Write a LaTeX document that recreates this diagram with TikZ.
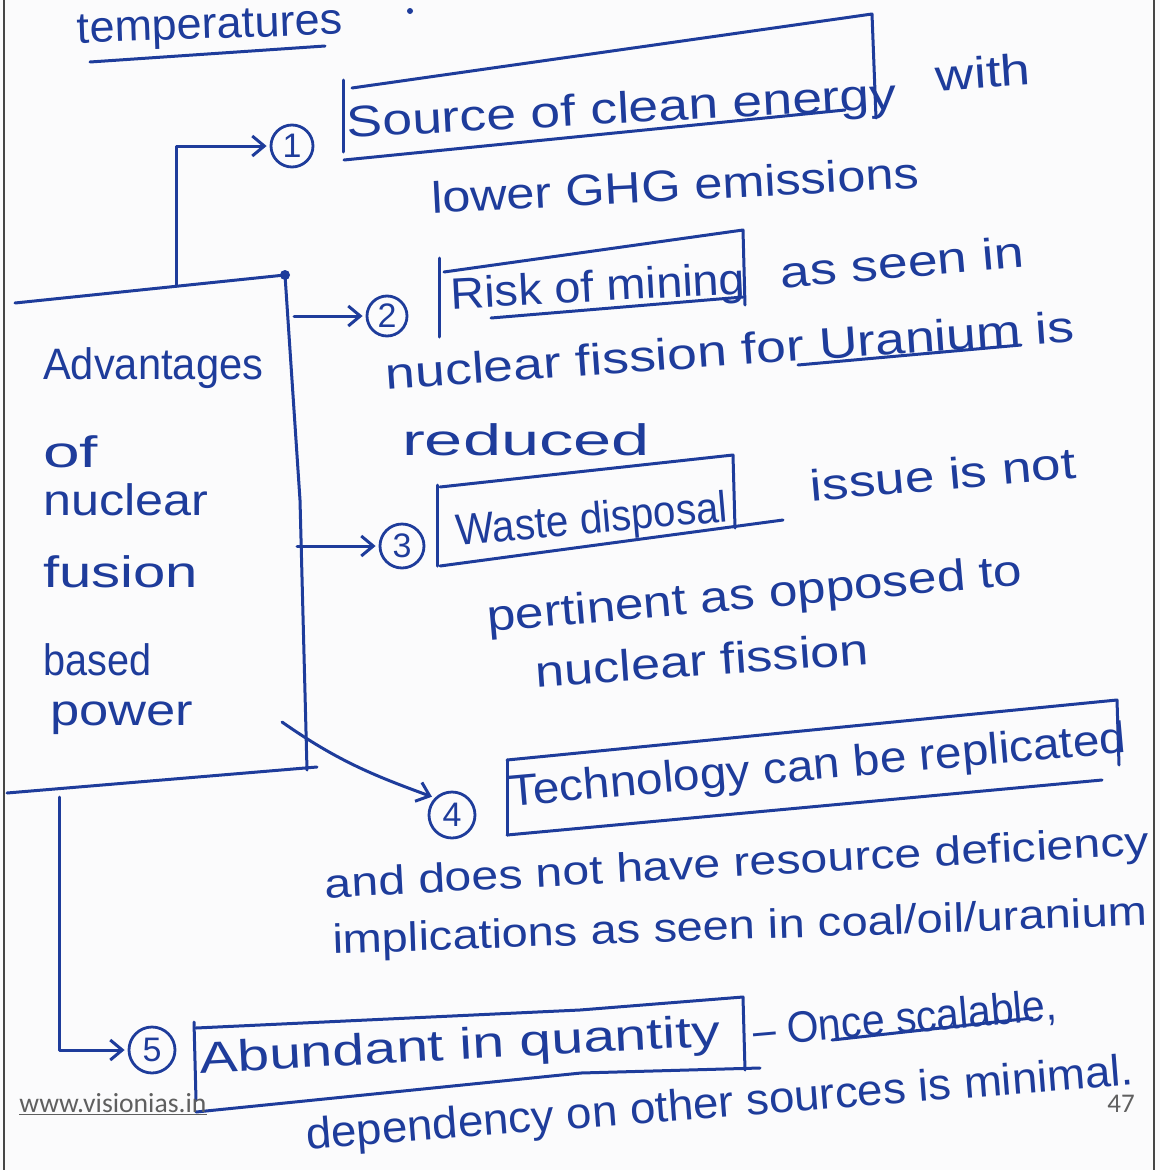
\documentclass[tikz,border=0pt]{standalone}
\usepackage{fontspec}
\setmainfont{Liberation Sans}
\newfontfamily\footfont{Carlito}
\usepackage{graphicx}
\usetikzlibrary{arrows.meta}
\definecolor{ink}{RGB}{30,60,155}
\definecolor{pagebg}{RGB}{251,251,252}
\definecolor{footgray}{RGB}{95,95,95}
\definecolor{edgegray}{RGB}{70,70,70}
\newcommand\hw[2]{\resizebox{#1pt}{\height}{#2}}
\begin{document}
\begin{tikzpicture}[x=1pt,y=-1pt,
  pen/.style={draw=ink,line width=3pt,line cap=round,line join=round},
  txt/.style={text=ink,inner sep=0pt,anchor=center,font=\fontsize{44}{44}\selectfont},
  lft/.style={text=ink,inner sep=0pt,anchor=west,font=\fontsize{44}{44}\selectfont},
  num/.style={circle,draw=ink,line width=2.8pt,text=ink,inner sep=0pt,minimum size=#1pt,font=\fontsize{34}{34}\selectfont},
  num/.default=40,
  arr/.style={pen,-{Straight Barb[length=12pt,width=20pt]},shorten >=3pt},
  foot/.style={text=footgray,inner sep=0pt,font=\footfont\fontsize{21}{21}\selectfont}
]
\fill[pagebg] (0,0) rectangle (1160,1170);
\useasboundingbox (0,0) rectangle (1160,1170);
% page edges
\draw[edgegray,line width=2.5pt] (4,0) -- (4,1170);
\draw[edgegray,line width=2.5pt] (1154,0) -- (1154,1170);

% top word
\node[txt,rotate=2] (temp) at (210,29) {\hw{265}{temperatures}};
\draw[pen] (90,62) -- (325,46);
\fill[ink] (410,11) circle (3);

% main box
\draw[pen] (15,303) -- (285,275);
\fill[ink] (285,275) circle (5);
\draw[pen] (285,275) -- (300,500) -- (307,770);
\draw[pen] (7,793) -- (317,767);
\node[lft] (adv1) at (43,368) {\hw{220}{Advantages}};
\node[lft] (adv2) at (43,452) {\hw{55}{of}};
\node[lft] (adv3) at (43,500) {\hw{165}{nuclear}};
\node[lft] (adv4) at (43,572) {\hw{155}{fusion}};
\node[lft] (adv5) at (43,660) {\hw{108}{based}};
\node[lft] (adv6) at (50,718) {\hw{143}{power}};

% junction points on the main box
\coordinate (j1) at (176,286);
\coordinate (s2) at (294,316);
\coordinate (s3) at (297,546);
\coordinate (s4) at (282,722);
\coordinate (j5) at (59,797);

% numbered circles
\node[num=42] (c1) at (292,146) {1};
\node[num=40] (c2) at (387,316) {2};
\node[num=44] (c3) at (402,546) {3};
\node[num=46] (c4) at (452,815) {4};
\node[num=46] (c5) at (152,1050) {5};

% connectors
\draw[arr] (j1) |- (c1.west);
\draw[arr] (s2) -- (c2.west);
\draw[arr] (s3) -- (c3.west);
\draw[arr] (s4) to[out=-35,in=160] (c4.north west);
\draw[arr] (j5) |- (c5.west);

% item 1
\draw[pen] (343,80) -- (343,152);
\draw[pen] (352,88) -- (872,14) -- (876,118);
\draw[pen] (344,160) -- (845,110);
\node[txt,rotate=3] (t1a) at (622,112) {\hw{550}{Source of clean energy}};
\node[txt,rotate=4] (t1b) at (983,72) {\hw{95}{with}};
\node[txt,rotate=3] (t1c) at (675,185) {\hw{488}{lower GHG emissions}};

% item 2
\draw[pen] (439,258) -- (439,337);
\draw[pen] (444,272) -- (743,230) -- (745,305);
\draw[pen] (491,318) -- (743,297);
\node[txt,rotate=3] (t2a) at (598,290) {\hw{295}{Risk of mining}};
\node[txt,rotate=5] (t2b) at (902,262) {\hw{244}{as seen in}};
\node[txt,rotate=4] (t2c) at (730,350) {\hw{690}{nuclear fission for Uranium is}};
\draw[pen] (798,365) -- (1021,345);
\node[txt] (t2d) at (526,440) {\hw{248}{reduced}};

% item 3
\draw[pen] (437,485) -- (437,566);
\draw[pen] (440,487) -- (733,455) -- (735,528);
\draw[pen] (440,566) -- (783,520);
\node[txt,rotate=5] (t3a) at (592,522) {\hw{272}{Waste disposal}};
\node[txt,rotate=5] (t3b) at (943,474) {\hw{266}{issue is not}};
\node[txt,rotate=5] (t3c) at (755,597) {\hw{537}{pertinent as opposed to}};
\node[txt,rotate=4] (t3d) at (702,660) {\hw{334}{nuclear fission}};

% item 4
\draw[pen] (507,760) -- (507,835);
\draw[pen] (507,760) -- (1117,700) -- (1119,765);
\draw[pen] (507,835) -- (1102,780);
\node[txt,rotate=5] (t4a) at (818,768) {\hw{619}{Technology can be replicated}};
\node[txt,rotate=3,font=\fontsize{41}{41}\selectfont] (t4b) at (737,866) {\hw{825}{and does not have resource deficiency}};
\node[txt,rotate=2,font=\fontsize{41}{41}\selectfont] (t4c) at (740,929) {\hw{815}{implications as seen in coal/oil/uranium}};

% item 5
\draw[pen] (194,1022) -- (196,1100);
\draw[pen] (196,1028) -- (580,1010) -- (743,997) -- (745,1070);
\draw[pen] (196,1112) -- (581,1073) -- (760,1068);
\node[txt,rotate=3] (t5a) at (460,1048) {\hw{521}{Abundant in quantity}};
\node[txt,rotate=5] (t5b) at (905,1020) {\hw{305}{– Once scalable,}};
\draw[pen] (832,1040) -- (1032,1018);
\node[txt,rotate=4.5] (t5c) at (720,1106) {\hw{830}{dependency on other sources is minimal.}};

% footer
\node[foot] (site) at (113,1104) {\resizebox{187pt}{!}{\underline{www.visionias.in}}};
\node[foot,font=\footfont\fontsize{27}{27}\selectfont] (page) at (1121,1104) {47};
\end{tikzpicture}
\end{document}
